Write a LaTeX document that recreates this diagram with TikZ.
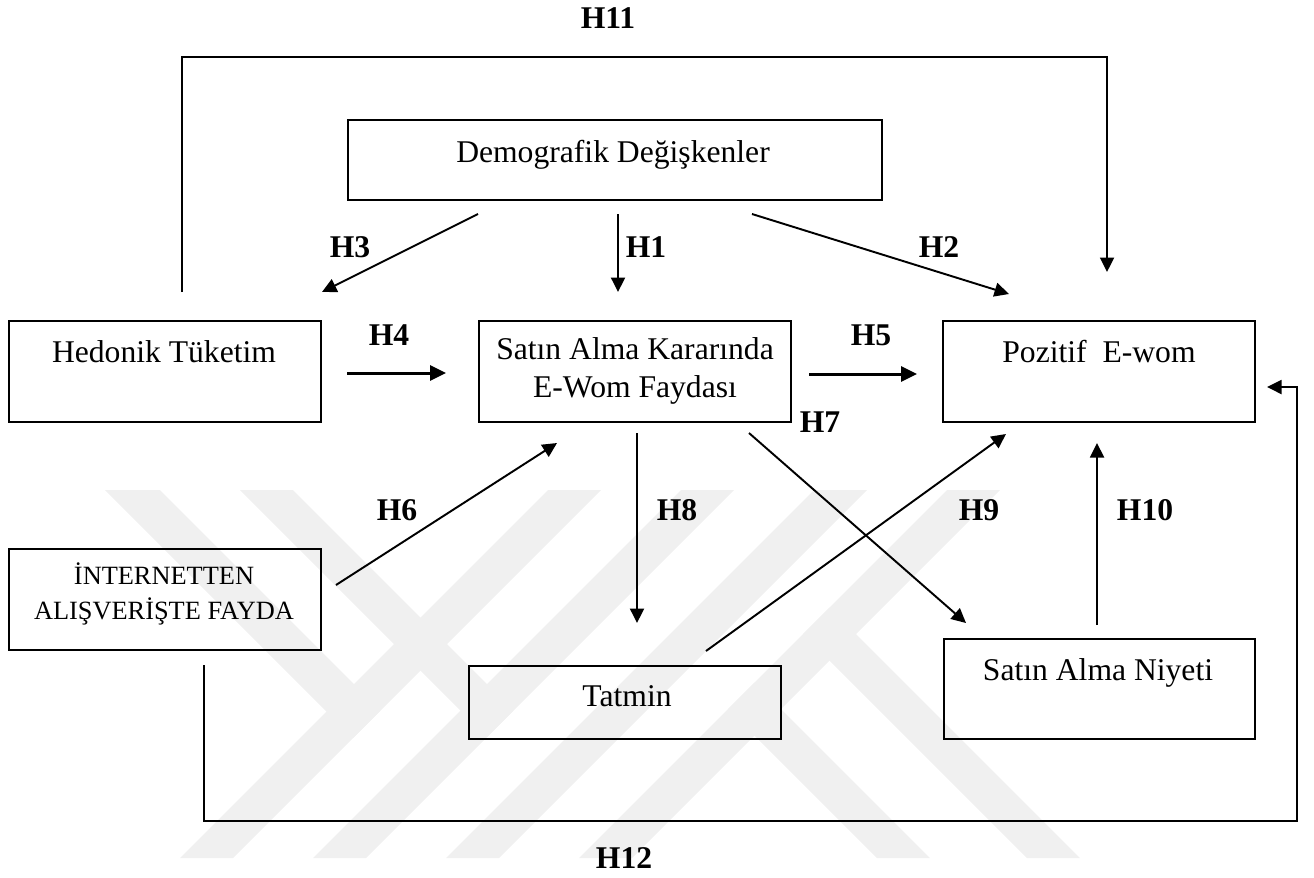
\documentclass[tikz,border=0pt]{standalone}
\usepackage{fontspec}
\setmainfont{Liberation Serif}
\usetikzlibrary{arrows.meta,calc}
\begin{document}
\begin{tikzpicture}[x=0.02cm,y=-0.02cm,
  box/.style={draw, line width=1.1pt, minimum width=6.24cm, minimum height=2.02cm, inner sep=0pt},
  lbl/.style={font=\fontsize{18}{21.5}\selectfont, anchor=base, inner sep=0pt},
  smalllbl/.style={font=\fontsize{15}{19.9}\selectfont, inner sep=0pt},
  hl/.style={font=\fontsize{18}{21.5}\selectfont\bfseries, anchor=base, inner sep=0pt},
  arr/.style={line width=1.1pt, -{Triangle[length=0.29cm,width=0.28cm]}},
  arrb/.style={line width=1.7pt, -{Triangle[length=0.32cm,width=0.3cm]}},
  wm/.style={fill=black!6, draw=none}]
\useasboundingbox (0,0) rectangle (1314,877);
% watermark
\fill[wm] (180,858) -- (233,858) -- (601,490) -- (548,490) -- cycle;
\fill[wm] (313,858) -- (366,858) -- (734,490) -- (681,490) -- cycle;
\fill[wm] (446,858) -- (499,858) -- (867,490) -- (814,490) -- cycle;
\fill[wm] (579,858) -- (632,858) -- (1000,490) -- (947,490) -- cycle;
\fill[wm] (105,490) -- (160,490) -- (380.5,710.5) -- (353,738) -- cycle;
\fill[wm] (240,490) -- (293,490) -- (513.5,710.5) -- (487,737) -- cycle;
\fill[wm] (829.5,607.5) -- (1080,858) -- (1027,858) -- (803,634) -- cycle;
\fill[wm] (754.5,682.5) -- (930,858) -- (877,858) -- (728,709) -- cycle;
% boxes
\node[box, minimum width=10.68cm, minimum height=1.6cm] (dem) at (615,160) {};
\node[box] (hed) at (165,371.5) {};
\node[box] (sat) at (635,371.5) {};
\node[box] (poz) at (1099,371.5) {};
\node[box] (int) at (165,599.5) {};
\node[box, minimum height=1.46cm] (tat) at (625,702.5) {};
\node[box, minimum width=6.22cm, minimum height=2.0cm] (niy) at (1099.5,689) {};
% box texts
\node[lbl] (demt) at (613,162) {Demografik Değişkenler};
\node[lbl] (hedt) at (164,362) {Hedonik Tüketim};
\node[lbl, align=center, anchor=center] (satt) at (635,370.6) {Satın Alma Kararında\\E-Wom Faydası};
\node[lbl] (pozt) at (1099,362) {Pozitif\ \ E-wom};
\node[smalllbl, align=center, anchor=center] (intt) at (164,594) {İNTERNETTEN\\ALIŞVERİŞTE FAYDA};
\node[lbl] (tatt) at (627,706) {Tatmin};
\node[lbl] (niyt) at (1098,680) {Satın Alma Niyeti};
% connector end points
\coordinate (h11a) at (182,292);
\coordinate (h11c) at (182,57);
\coordinate (h11b) at (1107,272);
\coordinate (h12a) at (204,665);
\coordinate (h12c) at (204,821);
\coordinate (h12d) at (1297,387);
\coordinate (h12b) at (1267,387);
\coordinate (h3a) at (478,214);  \coordinate (h3b) at (322,292);
\coordinate (h1a) at (618,214);  \coordinate (h1b) at (618,292);
\coordinate (h2a) at (752,214);  \coordinate (h2b) at (1009,294);
\coordinate (h4a) at (347,373);  \coordinate (h4b) at (446,373);
\coordinate (h5a) at (809,374);  \coordinate (h5b) at (917,374);
\coordinate (h6a) at (336,585);  \coordinate (h6b) at (557,443);
\coordinate (h8a) at (637,433);  \coordinate (h8b) at (637,623);
\coordinate (h7a) at (749,433);  \coordinate (h7b) at (966,623);
\coordinate (h9a) at (706,651);  \coordinate (h9b) at (1006,434);
\coordinate (h10a) at (1097,625); \coordinate (h10b) at (1097,443);
% connectors
\draw[arr] (h11a) -- (h11c) -| (h11b);
\draw[arr] (h12a) -- (h12c) -| (h12d) -- (h12b);
\draw[arr] (h3a) -- (h3b);
\draw[arr] (h1a) -- (h1b);
\draw[arr] (h2a) -- (h2b);
\draw[arrb] (h4a) -- (h4b);
\draw[arrb] (h5a) -- (h5b);
\draw[arr] (h6a) -- (h6b);
\draw[arr] (h8a) -- (h8b);
\draw[arr] (h7a) -- (h7b);
\draw[arr] (h9a) -- (h9b);
\draw[arr] (h10a) -- (h10b);
% hypothesis labels
\node[hl] (l11) at (608,28) {H11};
\node[hl] (l3) at (350,257) {H3};
\node[hl] (l1) at (646,257) {H1};
\node[hl] (l2) at (939,257) {H2};
\node[hl] (l4) at (389,345) {H4};
\node[hl] (l5) at (871,345) {H5};
\node[hl] (l7) at (820,432) {H7};
\node[hl] (l6) at (397,520) {H6};
\node[hl] (l8) at (677,520) {H8};
\node[hl] (l9) at (979,520) {H9};
\node[hl] (l10) at (1145,520) {H10};
\node[hl] (l12) at (624,868) {H12};
\end{tikzpicture}
\end{document}
